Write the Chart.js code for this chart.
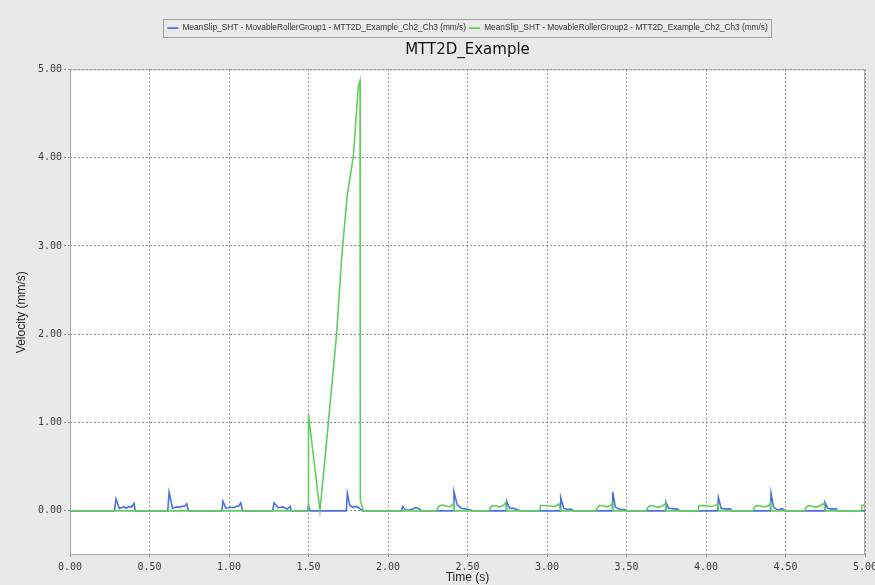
<!DOCTYPE html>
<html>
<head>
<meta charset="utf-8">
<title>MTT2D_Example</title>
<script src="https://cdn.jsdelivr.net/npm/chart.js@4.4.1/dist/chart.umd.min.js"></script>
<style>
  html, body { margin: 0; padding: 0; background: #e9e9e9; }
  canvas { display: block; }
</style>
</head>
<body>
<canvas id="slipChart" width="875" height="585"></canvas>
<script>
// Tick labels
const xTicks = [0, 0.5, 1, 1.5, 2, 2.5, 3, 3.5, 4, 4.5, 5];
const yTicks = [0, 1, 2, 3, 4, 5];

// MovableRollerGroup1 (blue)
const blueTimes = [
  0, 0.28, 0.289, 0.31, 0.34, 0.355, 0.37, 0.385, 0.403, 0.41,
  0.615, 0.623, 0.645, 0.67, 0.69, 0.705, 0.72, 0.734, 0.745,
  0.955, 0.962, 0.98, 1.01, 1.03, 1.05, 1.06, 1.074, 1.085,
  1.275, 1.283, 1.31, 1.34, 1.355, 1.367, 1.385, 1.392,
  1.495, 1.5, 1.51,
  1.738, 1.744, 1.76, 1.78, 1.8, 1.82, 1.84,
  2.085, 2.092, 2.11, 2.14, 2.17, 2.19, 2.205, 2.21,
  2.412, 2.415, 2.435, 2.46, 2.49, 2.52, 2.53,
  2.743, 2.746, 2.765, 2.79, 2.81, 2.83,
  3.082, 3.086, 3.105, 3.13, 3.15, 3.17,
  3.41, 3.413, 3.43, 3.46, 3.49, 3.5,
  3.745, 3.748, 3.765, 3.79, 3.82, 3.835,
  4.072, 4.078, 4.095, 4.13, 4.15, 4.165,
  4.405, 4.409, 4.425, 4.45, 4.48, 4.5,
  4.745, 4.748, 4.765, 4.79, 4.815, 4.83,
  5
];
const blueValues = [
  0, 0, 0.135, 0.03, 0.045, 0.03, 0.05, 0.04, 0.085, 0,
  0, 0.21, 0.03, 0.045, 0.04, 0.055, 0.05, 0.08, 0,
  0, 0.11, 0.03, 0.04, 0.035, 0.055, 0.05, 0.09, 0,
  0, 0.09, 0.035, 0.045, 0.03, 0.02, 0.05, 0,
  0, 0.06, 0,
  0, 0.2, 0.06, 0.04, 0.05, 0.03, 0,
  0, 0.05, 0.01, 0.01, 0.035, 0.03, 0.01, 0,
  0, 0.215, 0.07, 0.03, 0.02, 0.01, 0,
  0, 0.11, 0.03, 0.03, 0.015, 0,
  0, 0.15, 0.03, 0.015, 0.02, 0,
  0, 0.215, 0.04, 0.015, 0.015, 0,
  0, 0.1, 0.03, 0.025, 0.02, 0,
  0, 0.15, 0.03, 0.02, 0.025, 0,
  0, 0.2, 0.04, 0.01, 0.025, 0,
  0, 0.095, 0.03, 0.02, 0.025, 0,
  0
];

// MovableRollerGroup2 (green)
const greenTimes = [
  0, 1.497, 1.5, 1.572, 1.61, 1.677, 1.709, 1.744, 1.782, 1.813, 1.824, 1.826, 1.845,
  2.305, 2.315, 2.327, 2.345, 2.365, 2.39, 2.41, 2.415,
  2.635, 2.645, 2.66, 2.68, 2.7, 2.725, 2.74, 2.746,
  2.955, 2.96, 2.99, 3.02, 3.05, 3.075, 3.086,
  3.308, 3.318, 3.33, 3.35, 3.375, 3.4, 3.41, 3.413,
  3.625, 3.635, 3.648, 3.67, 3.7, 3.73, 3.745, 3.748,
  3.95, 3.953, 3.98, 4.01, 4.04, 4.065, 4.075, 4.078,
  4.295, 4.305, 4.318, 4.34, 4.37, 4.395, 4.405, 4.409,
  4.62, 4.63, 4.645, 4.665, 4.69, 4.72, 4.742, 4.748,
  4.978, 4.98, 5
];
const greenValues = [
  0, 0, 1.09, 0, 0.71, 2.01, 2.88, 3.58, 4.01, 4.8, 4.87, 0.12, 0,
  0, 0.04, 0.06, 0.065, 0.055, 0.045, 0.08, 0,
  0, 0.04, 0.06, 0.055, 0.045, 0.06, 0.09, 0,
  0, 0.06, 0.06, 0.055, 0.05, 0.08, 0,
  0, 0.04, 0.06, 0.06, 0.045, 0.06, 0.085, 0,
  0, 0.04, 0.06, 0.055, 0.04, 0.06, 0.085, 0,
  0, 0.055, 0.06, 0.055, 0.05, 0.07, 0.085, 0,
  0, 0.04, 0.06, 0.055, 0.045, 0.06, 0.085, 0,
  0, 0.04, 0.06, 0.055, 0.04, 0.06, 0.085, 0,
  0, 0.06, 0.065
];

const BLUE = "#4a72de";
const GREEN = "#62cc62";

function toPoints(times, values) {
  return times.map((t, i) => ({ x: t, y: values[i] }));
}

// grey frame, white plot area, plot border and the legend box outline
const framePlugin = {
  id: "frame",
  beforeDraw(chart) {
    const { ctx, chartArea: a } = chart;
    ctx.save();
    ctx.fillStyle = "#e9e9e9";
    ctx.fillRect(0, 0, chart.width, chart.height);
    ctx.fillStyle = "#ffffff";
    ctx.fillRect(a.left, a.top, a.right - a.left, a.bottom - a.top);
    ctx.restore();
  },
  beforeDatasetsDraw(chart) {
    const { ctx, chartArea: a } = chart;
    ctx.save();
    ctx.strokeStyle = "#a8a8a8";
    ctx.lineWidth = 1;
    ctx.strokeRect(a.left + 0.5, a.top + 0.5, a.right - a.left - 1, a.bottom - a.top - 1);
    ctx.restore();
  },
  afterDraw(chart) {
    const boxes = chart.legend && chart.legend.legendHitBoxes;
    if (!boxes || !boxes.length) return;
    const left = Math.min(...boxes.map((b) => b.left)) - 4;
    const right = Math.max(...boxes.map((b) => b.left + b.width)) + 4;
    const top = boxes[0].top + boxes[0].height / 2 - 9;
    const { ctx } = chart;
    ctx.save();
    ctx.strokeStyle = "#a0a0a0";
    ctx.lineWidth = 1;
    ctx.strokeRect(Math.round(left) + 0.5, Math.round(top) + 0.5, Math.round(right - left), 18);
    ctx.restore();
  },
};

const tickFont = { family: "DejaVu Sans Mono", size: 10 };
const axisTitleFont = { family: "Liberation Sans", size: 12 };
const gridOpts = {
  color: "#8c8c8c",
  tickColor: "#8c8c8c",
  tickBorderDash: [2, 2],
};

document.addEventListener("DOMContentLoaded", () => {
  const ctx = document.getElementById("slipChart");

  new Chart(ctx, {
    type: "line",
    data: {
      datasets: [
        {
          label: "MeanSlip_SHT - MovableRollerGroup1 - MTT2D_Example_Ch2_Ch3 (mm/s)",
          data: toPoints(blueTimes, blueValues),
          borderColor: BLUE,
          backgroundColor: BLUE,
          borderWidth: 1.6,
          pointRadius: 0,
          tension: 0,
          order: 1,
        },
        {
          label: "MeanSlip_SHT - MovableRollerGroup2 - MTT2D_Example_Ch2_Ch3 (mm/s)",
          data: toPoints(greenTimes, greenValues),
          borderColor: GREEN,
          backgroundColor: GREEN,
          borderWidth: 1.6,
          pointRadius: 0,
          tension: 0,
          order: 0, // green sits on top of blue
        },
      ],
    },
    options: {
      responsive: false,
      animation: false,
      layout: {
        padding: { top: 21, left: 0, right: 10, bottom: 0 },
        autoPadding: false,
      },
      plugins: {
        legend: {
          display: true,
          fullSize: false,
          weight: 3000, // legend above the title
          labels: {
            font: { family: "Liberation Sans", size: 8.3 },
            color: "#333",
            usePointStyle: true,
            pointStyle: "line",
            pointStyleWidth: 11,
            padding: 3,
            sort: (a, b) => a.datasetIndex - b.datasetIndex,
          },
        },
        title: {
          display: true,
          fullSize: false,
          weight: 500,
          text: "MTT2D_Example",
          color: "#111",
          font: { family: "DejaVu Sans", size: 15, weight: "normal" },
          padding: { top: -1, bottom: 10 },
        },
        tooltip: { enabled: false },
      },
      scales: {
        x: {
          type: "linear",
          position: "bottom",
          min: 0,
          max: 5,
          afterBuildTicks: (s) => {
            s.ticks = xTicks.map((v) => ({ value: v }));
          },
          afterFit: (s) => {
            s.height = 30;
            s.paddingLeft = 0;
            s.paddingRight = 0;
          },
          ticks: {
            font: tickFont,
            color: "#3c3c3c",
            padding: 2,
            maxRotation: 0,
            callback: (v) => Number(v).toFixed(2),
          },
          grid: { ...gridOpts, tickLength: 4 },
          border: { display: false, dash: [2, 2] },
          title: {
            display: true,
            text: "Time (s)",
            color: "#222",
            font: axisTitleFont,
            padding: { top: 0, bottom: 0 },
          },
        },
        y: {
          type: "linear",
          min: -0.5,
          max: 5,
          afterBuildTicks: (s) => {
            s.ticks = yTicks.map((v) => ({ value: v }));
          },
          afterFit: (s) => {
            s.width = 70;
            s.paddingTop = 0;
            s.paddingBottom = 0;
          },
          ticks: {
            font: tickFont,
            color: "#3c3c3c",
            padding: 2,
            callback: (v) => Number(v).toFixed(2),
          },
          grid: { ...gridOpts, tickLength: 6 },
          border: { display: false, dash: [2, 2] },
          title: {
            display: true,
            text: "Velocity (mm/s)",
            color: "#222",
            font: axisTitleFont,
            padding: { top: 14, bottom: 0 },
          },
        },
      },
    },
    plugins: [framePlugin],
  });
});
</script>
</body>
</html>
